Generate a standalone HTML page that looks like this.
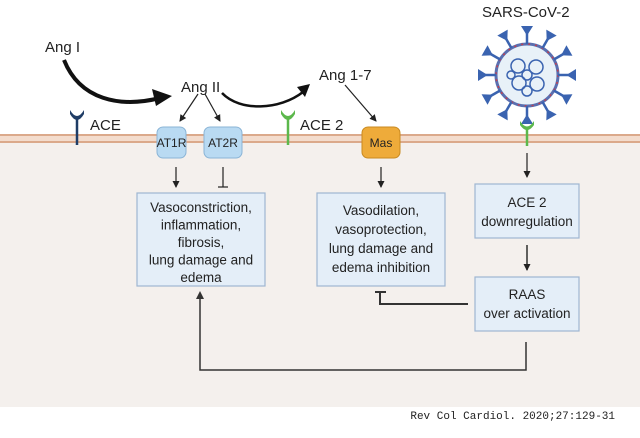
<!DOCTYPE html>
<html><head><style>
body{margin:0;width:640px;height:433px;overflow:hidden;background:#fff;font-family:"Liberation Sans",sans-serif}
</style></head><body>
<svg width="640" height="433" viewBox="0 0 640 433" xmlns="http://www.w3.org/2000/svg" font-family="Liberation Sans, sans-serif">
<defs>
<marker id="a" markerWidth="8" markerHeight="8" refX="6" refY="4" orient="auto" markerUnits="userSpaceOnUse"><path d="M0,0.5 L7,4 L0,7.5 z" fill="#222"/></marker>
</defs>
<rect x="0" y="140" width="640" height="267" fill="#f4f0ed"/>
<rect x="0" y="134" width="640" height="9" fill="#f3dccd"/>
<line x1="0" y1="135" x2="640" y2="135" stroke="#dba98b" stroke-width="2"/>
<line x1="0" y1="142" x2="640" y2="142" stroke="#dba98b" stroke-width="2"/>
<text x="45" y="52" font-size="15" fill="#222">Ang I</text>
<text x="181" y="92" font-size="15" fill="#222">Ang II</text>
<text x="319" y="80" font-size="15" fill="#222">Ang 1-7</text>
<text x="482" y="17" font-size="15" fill="#222">SARS-CoV-2</text>
<path d="M64,60 C80,100 120,108 160,98" fill="none" stroke="#111" stroke-width="4"/>
<path d="M152,89 L172,96 L156,106 z" fill="#111"/>
<path d="M222,93 C240,112 280,110 303,92" fill="none" stroke="#111" stroke-width="2.5"/>
<path d="M297,87 L310,84 L305,97 z" fill="#111"/>
<line x1="198" y1="94" x2="180" y2="121" stroke="#222" stroke-width="1.2" marker-end="url(#a)"/>
<line x1="205" y1="94" x2="220" y2="121" stroke="#222" stroke-width="1.2" marker-end="url(#a)"/>
<line x1="345" y1="85" x2="376" y2="121" stroke="#222" stroke-width="1.2" marker-end="url(#a)"/>
<path d="M70,110 Q77,122 84,110 L84,114 Q77,126 70,114 z" fill="#1f3d66"/>
<line x1="77" y1="118" x2="77" y2="145" stroke="#1f3d66" stroke-width="2.5"/>
<text x="90" y="130" font-size="15" fill="#222">ACE</text>
<path d="M281,110 Q288,122 295,110 L295,114 Q288,126 281,114 z" fill="#5cb84c"/>
<line x1="288" y1="118" x2="288" y2="145" stroke="#5cb84c" stroke-width="2.5"/>
<text x="300" y="130" font-size="15" fill="#222">ACE 2</text>
<rect x="157" y="127" width="29" height="31" rx="6" fill="#b9daf2" stroke="#8ab4d6"/>
<text x="171.5" y="147" font-size="12" text-anchor="middle" fill="#222">AT1R</text>
<rect x="204" y="127" width="38" height="31" rx="6" fill="#b9daf2" stroke="#8ab4d6"/>
<text x="223" y="147" font-size="12" text-anchor="middle" fill="#222">AT2R</text>
<rect x="362" y="127" width="38" height="31" rx="6" fill="#eeab3a" stroke="#c98a20"/>
<text x="381" y="147" font-size="12" text-anchor="middle" fill="#222">Mas</text>
<g transform="translate(527,75)" stroke="#3a63b0" fill="#3a63b0">
<circle r="31" fill="#e8f1f8" stroke="#5a6fb0" stroke-width="3"/>
<circle r="31" fill="none" stroke="#c04050" stroke-width="1.5" stroke-dasharray="2 5"/>
<g id="sp"><line x1="0" y1="-31" x2="0" y2="-44" stroke-width="2.5"/><path d="M-6,-49 L6,-49 L1,-41 L-1,-41 z" stroke="none"/></g>
<use href="#sp" transform="rotate(30)"/><use href="#sp" transform="rotate(60)"/><use href="#sp" transform="rotate(90)"/><use href="#sp" transform="rotate(120)"/><use href="#sp" transform="rotate(150)"/><use href="#sp" transform="rotate(180)"/><use href="#sp" transform="rotate(210)"/><use href="#sp" transform="rotate(240)"/><use href="#sp" transform="rotate(270)"/><use href="#sp" transform="rotate(300)"/><use href="#sp" transform="rotate(330)"/>
<g fill="none" stroke-width="1.5"><circle cx="-9" cy="-9" r="7"/><circle cx="9" cy="-8" r="7"/><circle cx="-8" cy="8" r="7"/><circle cx="10" cy="9" r="7"/><circle cx="0" cy="0" r="5"/><circle cx="0" cy="16" r="5"/><circle cx="-16" cy="0" r="4"/></g>
</g>
<path d="M520,121 Q527,132 534,121 L534,125 Q527,135 520,125 z" fill="#5cb84c"/>
<line x1="527" y1="128" x2="527" y2="146" stroke="#5cb84c" stroke-width="2.5"/>
<line x1="176" y1="167" x2="176" y2="187" stroke="#222" stroke-width="1.2" marker-end="url(#a)"/>
<line x1="223" y1="167" x2="223" y2="187" stroke="#222" stroke-width="1.2"/>
<line x1="218" y1="187" x2="228" y2="187" stroke="#222" stroke-width="1.2"/>
<line x1="381" y1="167" x2="381" y2="187" stroke="#222" stroke-width="1.2" marker-end="url(#a)"/>
<line x1="527" y1="153" x2="527" y2="177" stroke="#222" stroke-width="1.2" marker-end="url(#a)"/>
<line x1="527" y1="245" x2="527" y2="270" stroke="#222" stroke-width="1.4" marker-end="url(#a)"/>
<g fill="#e4eef8" stroke="#9fb6d2" stroke-width="1.2">
<rect x="137" y="193" width="128" height="93"/>
<rect x="317" y="193" width="128" height="93"/>
<rect x="475" y="184" width="104" height="54"/>
<rect x="475" y="277" width="104" height="54"/>
</g>
<g font-size="13.5" fill="#222" text-anchor="middle">
<text x="201" y="212">Vasoconstriction,</text>
<text x="201" y="229.5">inflammation,</text>
<text x="201" y="247">fibrosis,</text>
<text x="201" y="264.5">lung damage and</text>
<text x="201" y="282">edema</text>
<text x="381" y="215">Vasodilation,</text>
<text x="381" y="234">vasoprotection,</text>
<text x="381" y="253">lung damage and</text>
<text x="381" y="272">edema inhibition</text>
<text x="527" y="207">ACE 2</text>
<text x="527" y="226">downregulation</text>
<text x="527" y="299">RAAS</text>
<text x="527" y="318">over activation</text>
</g>
<path d="M468,304 L380,304 L380,292" fill="none" stroke="#333" stroke-width="2"/>
<line x1="375" y1="292" x2="386" y2="292" stroke="#333" stroke-width="2"/>
<path d="M526,342 L526,370 L200,370 L200,298" fill="none" stroke="#333" stroke-width="1.5"/>
<path d="M196,299 L200,291 L204,299 z" fill="#333"/>
<text x="615" y="419" font-size="11" font-family="Liberation Mono, monospace" text-anchor="end" fill="#222">Rev Col Cardiol. 2020;27:129-31</text>
</svg>
</body></html>
